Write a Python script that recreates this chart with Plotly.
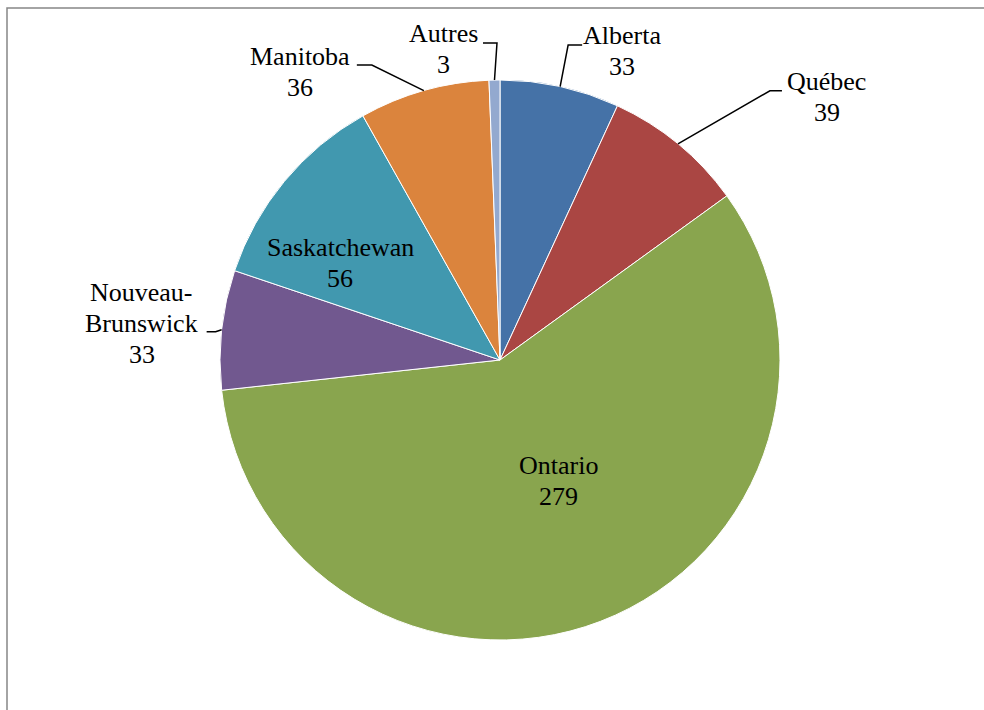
import math
import plotly.graph_objects as go

# ---- data ----
provinces = ["Alberta", "Québec", "Ontario", "Nouveau-Brunswick", "Saskatchewan", "Manitoba", "Autres"]
label_lines = [["Alberta"], ["Québec"], ["Ontario"], ["Nouveau-", "Brunswick"], ["Saskatchewan"], ["Manitoba"], ["Autres"]]
values = [33, 39, 279, 33, 56, 36, 3]
colors = ["#4572A7", "#AA4643", "#89A54E", "#71588F", "#4198AF", "#DB843D", "#93A9CF"]

# ---- layout constants (pixels) ----
W, H = 984, 710
CX, CY, R = 500, 360, 280
FONT = "Liberation Serif"
FSIZE = 26
LINE_GAP = 31

# label placement relative to the slice point at its mid angle (radius fraction rf):
# first-line text offset, leader elbow, leader end
label_style = {
    "Alberta":           dict(rf=1.0, text=(62, -51.5), elbow=(8, -41.5), end=(22, -41.5)),
    "Québec":            dict(rf=1.0, text=(149, -62), elbow=(92, -53), end=(104, -53)),
    "Ontario":           dict(rf=0.45, text=(13, -12)),
    "Nouveau-Brunswick": dict(rf=1.0, text=(-80, -37), elbow=(-6, 2), end=(-15, 2)),
    "Saskatchewan":      dict(rf=0.62, text=(-26, -2)),
    "Manitoba":          dict(rf=1.0, text=(-124, -34.5), elbow=(-52, -25.5), end=(-67, -25.5)),
    "Autres":            dict(rf=1.0, text=(-50.5, -47), elbow=(2.5, -37), end=(-11.5, -37)),
}

total = sum(values)
fig = go.Figure(go.Pie(
    labels=provinces, values=values, sort=False, direction="clockwise", rotation=0,
    marker=dict(colors=colors, line=dict(color="white", width=1)),
    textinfo="none", hoverinfo="label+value", showlegend=False,
    domain=dict(x=[(CX - R) / W, (CX + R) / W], y=[(H - CY - R) / H, (H - CY + R) / H]),
))

def to_paper(px, py):
    return px / W, 1 - py / H

annotations, shapes = [], []
cum = 0
for name, lines, v in zip(provinces, label_lines, values):
    mid = (cum + v / 2) / total * 2 * math.pi
    cum += v
    st = label_style[name]
    ax = CX + R * st["rf"] * math.sin(mid)
    ay = CY - R * st["rf"] * math.cos(mid)
    tx, ty = ax + st["text"][0], ay + st["text"][1]
    for k, line in enumerate(lines + [str(v)]):
        x, y = to_paper(tx, ty + k * LINE_GAP)
        annotations.append(dict(
            x=x, y=y, xref="paper", yref="paper", text=line, showarrow=False,
            xanchor="center", yanchor="middle", align="center",
            font=dict(family=FONT, size=FSIZE, color="black"),
        ))
    if "elbow" in st:
        ex, ey = ax + st["elbow"][0], ay + st["elbow"][1]
        nx, ny = ax + st["end"][0], ay + st["end"][1]
        p = [to_paper(ax, ay), to_paper(ex, ey), to_paper(nx, ny)]
        path = "M {} {} L {} {} L {} {}".format(p[0][0], p[0][1], p[1][0], p[1][1], p[2][0], p[2][1])
        shapes.append(dict(type="path", path=path, xref="paper", yref="paper",
                           line=dict(color="black", width=1.5)))

# outer chart frame
shapes.append(dict(type="rect", xref="paper", yref="paper",
                   x0=7 / W, x1=(W + 10) / W, y0=1 - (H + 10) / H, y1=1 - 8 / H,
                   line=dict(color="#868686", width=1.5), fillcolor="rgba(0,0,0,0)"))

fig.update_layout(
    width=W, height=H, margin=dict(l=0, r=0, t=0, b=0),
    paper_bgcolor="white", plot_bgcolor="white",
    font=dict(family=FONT),
    annotations=annotations, shapes=shapes,
)
fig.write_html("out.html")
